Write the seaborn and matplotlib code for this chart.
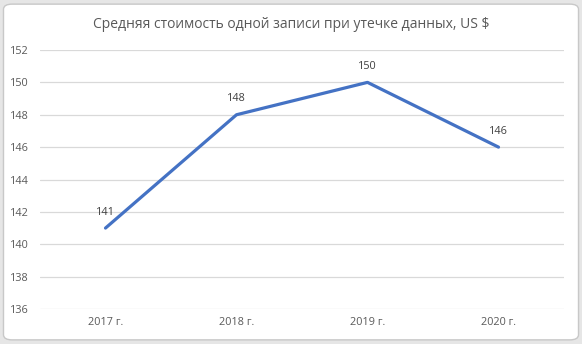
import matplotlib
matplotlib.use("Agg")
import matplotlib.pyplot as plt
import seaborn as sns
import pandas as pd
from matplotlib.patches import FancyBboxPatch

years = ["2017 г.", "2018 г.", "2019 г.", "2020 г."]
values = [141, 148, 150, 146]
title = "Средняя стоимость одной записи при утечке данных, US $"
y_ticks = [136, 138, 140, 142, 144, 146, 148, 150, 152]

sns.set_theme(style="white")
plt.rcParams['font.family'] = ['Open Sans', 'DejaVu Sans']

df = pd.DataFrame({"year": years, "value": values})

fig = plt.figure(figsize=(5.82, 3.44), dpi=100)
fig.patch.set_facecolor("#e6e6e6")
border = FancyBboxPatch((0.006, 0.012), 0.988, 0.976, boxstyle="round,pad=0,rounding_size=0.015",
                        transform=fig.transFigure, facecolor="white", edgecolor="#c8c8c8",
                        linewidth=1.0, zorder=-10)
fig.patches.append(border)

ax = fig.add_axes([40/582, 1-309/344, (564-40)/582, (309-50)/344])
ax.set_facecolor("none")
sns.lineplot(data=df, x="year", y="value", ax=ax, color="#4472C4", linewidth=2.3, sort=False)

for i, v in enumerate(values):
    ax.annotate(str(v), (i, v), xytext=(0, 7.5), textcoords="offset points",
                ha="center", va="bottom", fontsize=7.8, color="#404040")

ax.set_xlim(-0.5, len(years) - 0.5)
ax.set_ylim(136, 152)
ax.set_yticks(y_ticks)
ax.set_xticks(range(len(years)))
ax.set_xticklabels(years)
ax.yaxis.grid(True, color="#d9d9d9", linewidth=0.9)
ax.xaxis.grid(False)
for s in ax.spines.values():
    s.set_visible(False)
ax.tick_params(axis="both", length=0, labelsize=7.8, colors="#595959")
ax.tick_params(axis="y", pad=8)
ax.tick_params(axis="x", pad=6)
ax.set_xlabel("")
ax.set_ylabel("")

fig.text(0.5, 1 - 25/344, title, ha="center", va="center", fontsize=10, color="#595959")

fig.savefig("out.png", dpi=100, facecolor=fig.get_facecolor())
